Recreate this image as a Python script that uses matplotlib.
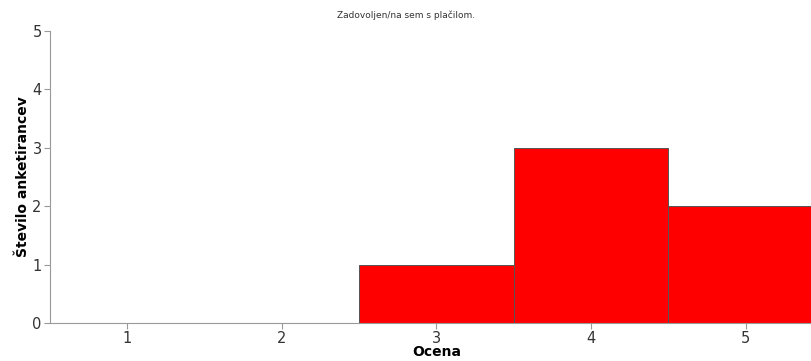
import matplotlib.pyplot as plt

ocene = [1, 2, 3, 4, 5]
stevilo = [0, 0, 1, 3, 2]

fig = plt.figure(figsize=(8.12, 3.61), dpi=100)
# axes run a bit past the right edge, as in the original export
ax = fig.add_axes([50 / 812, 38 / 361, 773 / 812, 292 / 361])

ax.bar(ocene, stevilo, width=1.0, color="#ff0000", edgecolor="#555555", linewidth=0.7)

ax.set_xlim(0.5, 5.5)
ax.set_ylim(0, 5)
ax.set_xticks(ocene)
ax.set_yticks(range(6))

for side in ("top", "right"):
    ax.spines[side].set_visible(False)
for side in ("left", "bottom"):
    ax.spines[side].set_color("#999999")
ax.tick_params(colors="#999999", labelcolor="#333333", labelsize=10.5, length=4, width=0.8, pad=2)

ax.set_xlabel("Ocena", fontsize=10, fontweight="bold", labelpad=-1)
ax.set_ylabel("Število anketirancev", fontsize=10, fontweight="bold", labelpad=2)
fig.text(406 / 812, 1 - 15 / 361, "Zadovoljen/na sem s plačilom.", ha="center", va="center",
         fontsize=6.5, color="#333333")

fig.savefig("out.png", dpi=100)
